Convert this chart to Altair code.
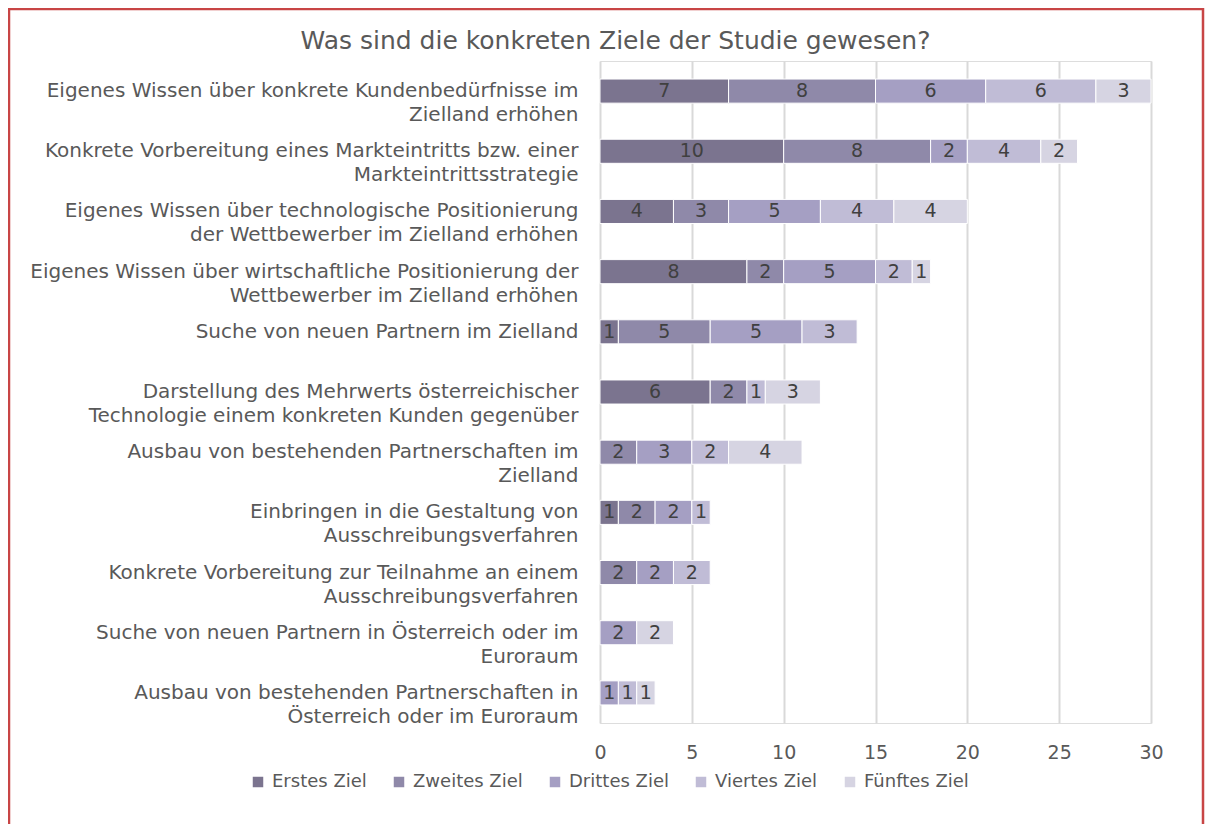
import altair as alt
import pandas as pd

# ---------------- data ----------------
category_lines = [
    ["Eigenes Wissen über konkrete Kundenbedürfnisse im", "Zielland erhöhen"],
    ["Konkrete Vorbereitung eines Markteintritts bzw. einer", "Markteintrittsstrategie"],
    ["Eigenes Wissen über technologische Positionierung", "der Wettbewerber im Zielland erhöhen"],
    ["Eigenes Wissen über wirtschaftliche Positionierung der", "Wettbewerber im Zielland erhöhen"],
    ["Suche von neuen Partnern im Zielland"],
    ["Darstellung des Mehrwerts österreichischer", "Technologie einem konkreten Kunden gegenüber"],
    ["Ausbau von bestehenden Partnerschaften im", "Zielland"],
    ["Einbringen in die Gestaltung von", "Ausschreibungsverfahren"],
    ["Konkrete Vorbereitung zur Teilnahme an einem", "Ausschreibungsverfahren"],
    ["Suche von neuen Partnern in Österreich oder im", "Euroraum"],
    ["Ausbau von bestehenden Partnerschaften in", "Österreich oder im Euroraum"],
]
series = ["Erstes Ziel", "Zweites Ziel", "Drittes Ziel", "Viertes Ziel", "Fünftes Ziel"]
erstes = [7, 10, 4, 8, 1, 6, 0, 1, 0, 0, 0]
zweites = [8, 8, 3, 2, 5, 2, 2, 2, 2, 0, 0]
drittes = [6, 2, 5, 5, 5, 0, 3, 2, 2, 2, 1]
viertes = [6, 4, 4, 2, 3, 1, 2, 1, 2, 0, 1]
fuenftes = [3, 2, 4, 1, 0, 3, 4, 0, 0, 2, 1]
colors = ["#7b748f", "#8f89a9", "#a59fc3", "#c0bcd6", "#d6d4e2"]
x_ticks = [0, 5, 10, 15, 20, 25, 30]
title_text = "Was sind die konkreten Ziele der Studie gewesen?"

# ------------- label centring helper (approx. DejaVu Sans advance widths, em) -------------
W = {" ": .318, "a": .613, "b": .635, "c": .550, "d": .635, "e": .615, "f": .352, "g": .635,
     "h": .634, "i": .278, "j": .278, "k": .579, "l": .278, "m": .974, "n": .634, "o": .612,
     "p": .635, "r": .411, "s": .521, "t": .392, "u": .634, "v": .592, "w": .818, "x": .592,
     "y": .592, "z": .525, ".": .318, "ä": .613, "ö": .612, "ü": .634, "ß": .636,
     "A": .684, "D": .770, "E": .632, "K": .656, "M": .863, "S": .635, "T": .611, "W": .989,
     "Z": .686, "Ö": .787, "P": .603, "G": .775}


def tw(s):
    return sum(W.get(c, 0.6) for c in s)


def centred(lines):
    if len(lines) < 2:
        return lines[0]
    widths = [tw(l) for l in lines]
    mx = max(widths)
    out = []
    for l, w in zip(lines, widths):
        n = int(round((mx - w) / 2 / W[" "]))
        out.append(l + "\u00a0" * n)
    return "|".join(out)


categories = [centred(c) for c in category_lines]
values = [erstes, zweites, drittes, viertes, fuenftes]

rows = []
for si, s in enumerate(series):
    for ci, c in enumerate(categories):
        v = values[si][ci]
        if v > 0:
            rows.append({"cat": c, "series": s, "order": si, "value": v})
df = pd.DataFrame(rows)

FONT = "DejaVu Sans"
GREY = "#595959"

base = alt.Chart(df).transform_stack(
    stack="value", groupby=["cat"], as_=["x0", "x1"],
    sort=[alt.SortField("order", order="ascending")]
).transform_calculate(mid="(datum.x0 + datum.x1) / 2")

yenc = alt.Y("cat:N", sort=categories, title=None,
             scale=alt.Scale(paddingInner=0.6, paddingOuter=0.3),
             axis=alt.Axis(labelExpr="split(datum.label, '|')", labelLimit=800,
                           labelFontSize=20, labelFont=FONT, labelColor=GREY,
                           labelLineHeight=24, ticks=False, domain=False,
                           labelPadding=22, labelAlign="right", grid=False))

bars = base.mark_bar(stroke="white", strokeWidth=1).encode(
    x=alt.X("x0:Q", title=None,
            scale=alt.Scale(domain=[0, 30], nice=False),
            axis=alt.Axis(values=x_ticks, ticks=False, domain=False, grid=True,
                          gridColor="#d9d9d9", gridWidth=2, labelFlush=False,
                          labelFontSize=19, labelFont=FONT, labelColor=GREY,
                          labelPadding=20)),
    x2="x1:Q",
    y=yenc,
    color=alt.Color("series:N", sort=series,
                    scale=alt.Scale(domain=series, range=colors),
                    legend=alt.Legend(title=None, orient="none", direction="horizontal",
                                      columns=5, legendX=-351, legendY=712,
                                      symbolType="square", symbolSize=110,
                                      symbolStrokeWidth=0, labelFontSize=18,
                                      labelFont=FONT, labelColor=GREY,
                                      labelOffset=5, columnPadding=23)),
)

labels = base.mark_text(fontSize=19, font=FONT, color="#404040", baseline="middle").encode(
    x="mid:Q",
    y=alt.Y("cat:N", sort=categories),
    text="value:Q",
)

frame = alt.Chart(pd.DataFrame({"a": [0]})).mark_rect(
    filled=False, stroke="#c84545", strokeWidth=2.5
).encode(x=alt.value(-591), x2=alt.value(603), y=alt.value(-52), y2=alt.value(900))

chart = alt.layer(bars, labels, frame).properties(
    width=551, height=662,
    padding={"left": 592, "top": 53, "right": 54, "bottom": 101},
    autosize=alt.AutoSizeParams(type="none"),
    title=alt.TitleParams(title_text, fontSize=25, font=FONT, color=GREY,
                          fontWeight="normal", anchor="middle", dx=-260, offset=-46),
).configure_view(stroke=None).configure(background="white")

chart.save("out.html", embed_options={"renderer": "svg", "actions": False})
